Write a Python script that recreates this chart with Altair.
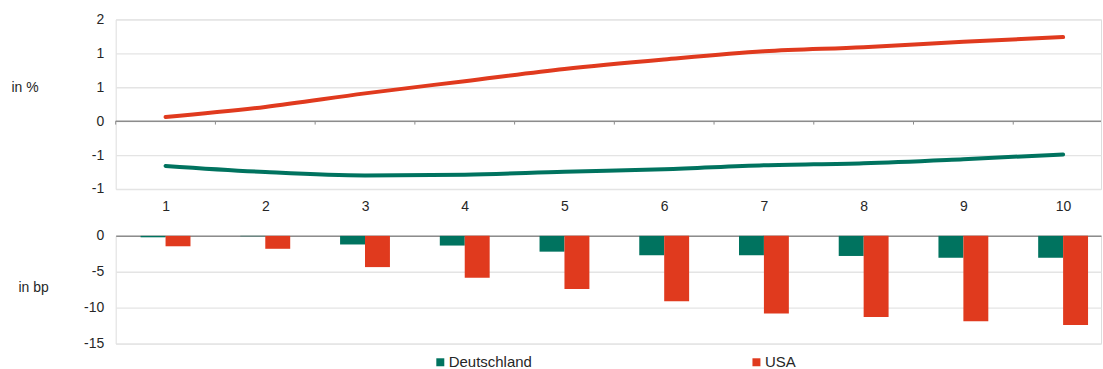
import altair as alt
import pandas as pd

# ---- data ----
laufzeit = [1, 2, 3, 4, 5, 6, 7, 8, 9, 10]
serien = ["Deutschland", "USA"]
farben = ["#00735F", "#E03A1E"]

de_prozent = [-0.66, -0.75, -0.80, -0.79, -0.745, -0.71, -0.65, -0.62, -0.56, -0.49]
us_prozent = [0.06, 0.21, 0.41, 0.59, 0.77, 0.91, 1.03, 1.09, 1.17, 1.24]

de_bp = [-0.2, -0.05, -1.2, -1.35, -2.2, -2.7, -2.7, -2.8, -3.05, -3.05]
us_bp = [-1.45, -1.8, -4.35, -5.85, -7.4, -9.1, -10.8, -11.3, -11.9, -12.4]

oben_ticks = [-1.0, -0.5, 0.0, 0.5, 1.0, 1.5]
unten_ticks = [-15, -10, -5, 0]

FONT = "Liberation Sans"
TXT = "#262626"

linien = pd.DataFrame({
    "laufzeit": laufzeit * 2,
    "serie": [serien[0]] * 10 + [serien[1]] * 10,
    "wert": de_prozent + us_prozent,
})
balken = pd.DataFrame({
    "laufzeit": laufzeit * 2,
    "serie": [serien[0]] * 10 + [serien[1]] * 10,
    "wert": de_bp + us_bp,
})
grenzen = pd.DataFrame({"laufzeit": laufzeit})

xscale = alt.Scale(domain=[0.5, 10.38], nice=False, zero=False)
yscale_oben = alt.Scale(domain=[-1.0, 1.5], nice=False, zero=False)
yscale_unten = alt.Scale(domain=[-15, 0], nice=False, zero=False)
cscale = alt.Scale(domain=serien, range=farben)

label_expr = "datum.value < 0 ? '-' + toString(round(-datum.value)) : toString(round(datum.value))"

legende = alt.Legend(orient="none", legendX=318, legendY=336,
                     direction="horizontal", title=None,
                     symbolType="square", symbolSize=64,
                     symbolStrokeWidth=0, columnPadding=217,
                     labelFontSize=15, labelColor=TXT,
                     labelFont=FONT, labelOffset=1)

x_achse_oben = alt.Axis(values=laufzeit, format="d", title=None, domain=False,
                        ticks=False, grid=False, labelPadding=11, labelFontSize=14,
                        labelColor=TXT, labelFont=FONT)
y_achse_oben = alt.Axis(values=oben_ticks, labelExpr=label_expr, title="in %",
                        labelOverlap=False,
                        titleAngle=0, titleAlign="left", titleBaseline="middle",
                        titleX=-105, titleY=68, titleFontWeight="normal",
                        titleFontSize=14, titleColor=TXT, titleFont=FONT,
                        domain=False, ticks=False, tickSize=0, labelPadding=12,
                        labelFontSize=14, labelColor=TXT, labelFont=FONT,
                        grid=True, gridColor="#e4e4e4", gridWidth=1.3)

# ---------------- top panel (in %) ----------------
lines = alt.Chart(linien).mark_line(
    strokeWidth=4, strokeCap="round", interpolate="monotone"
).encode(
    x=alt.X("laufzeit:Q", scale=xscale, axis=x_achse_oben),
    y=alt.Y("wert:Q", scale=yscale_oben, axis=y_achse_oben),
    color=alt.Color("serie:N", scale=cscale, legend=legende),
)

null_linie = alt.Chart(pd.DataFrame({"y": [0.0]})).mark_rule(
    color="#8c8c8c", strokeWidth=1.5
).encode(y=alt.Y("y:Q", scale=yscale_oben, axis=y_achse_oben))

tick_marks = alt.Chart(grenzen).transform_calculate(
    grenze="datum.laufzeit - 0.5", y0="0", y1="-0.05"
).mark_rule(color="#8c8c8c", strokeWidth=1).encode(
    x=alt.X("grenze:Q", scale=xscale, axis=x_achse_oben),
    y=alt.Y("y0:Q", scale=yscale_oben, axis=y_achse_oben),
    y2="y1:Q",
)

oben = alt.layer(lines, null_linie, tick_marks).properties(width=988, height=170)

# ---------------- bottom panel (in bp) ----------------
bars = alt.Chart(balken).transform_calculate(
    x0="datum.laufzeit + (datum.serie == 'USA' ? 0 : -0.25)",
    x1="datum.x0 + 0.25",
    null="0",
).mark_bar().encode(
    x=alt.X("x0:Q", scale=xscale,
            axis=alt.Axis(orient="top", labels=False, ticks=False, grid=False,
                          title=None, domain=True, domainColor="#8c8c8c",
                          domainWidth=1.5)),
    x2="x1:Q",
    y=alt.Y("wert:Q", scale=yscale_unten,
            axis=alt.Axis(values=unten_ticks, labelExpr=label_expr, title="in bp",
                          labelOverlap=False,
                          titleAngle=0, titleAlign="left", titleBaseline="middle",
                          titleX=-98, titleY=52, titleFontWeight="normal",
                          titleFontSize=14, titleColor=TXT, titleFont=FONT,
                          domain=False, ticks=False, tickSize=0, labelPadding=12,
                          labelFontSize=14, labelColor=TXT, labelFont=FONT,
                          grid=True, gridColor="#e4e4e4", gridWidth=1.3)),
    y2="null:Q",
    color=alt.Color("serie:N", scale=cscale, legend=legende),
).properties(width=988, height=108)

chart = alt.vconcat(oben, bars, spacing=47, bounds="flush").resolve_scale(
    y="independent"
).properties(
    padding={"left": 10, "top": 11, "right": 0, "bottom": 0}
).configure_view(strokeWidth=0, stroke="transparent").configure(
    font=FONT, background="white"
)

chart.save("out.html", embed_options={"renderer": "svg", "actions": False})
